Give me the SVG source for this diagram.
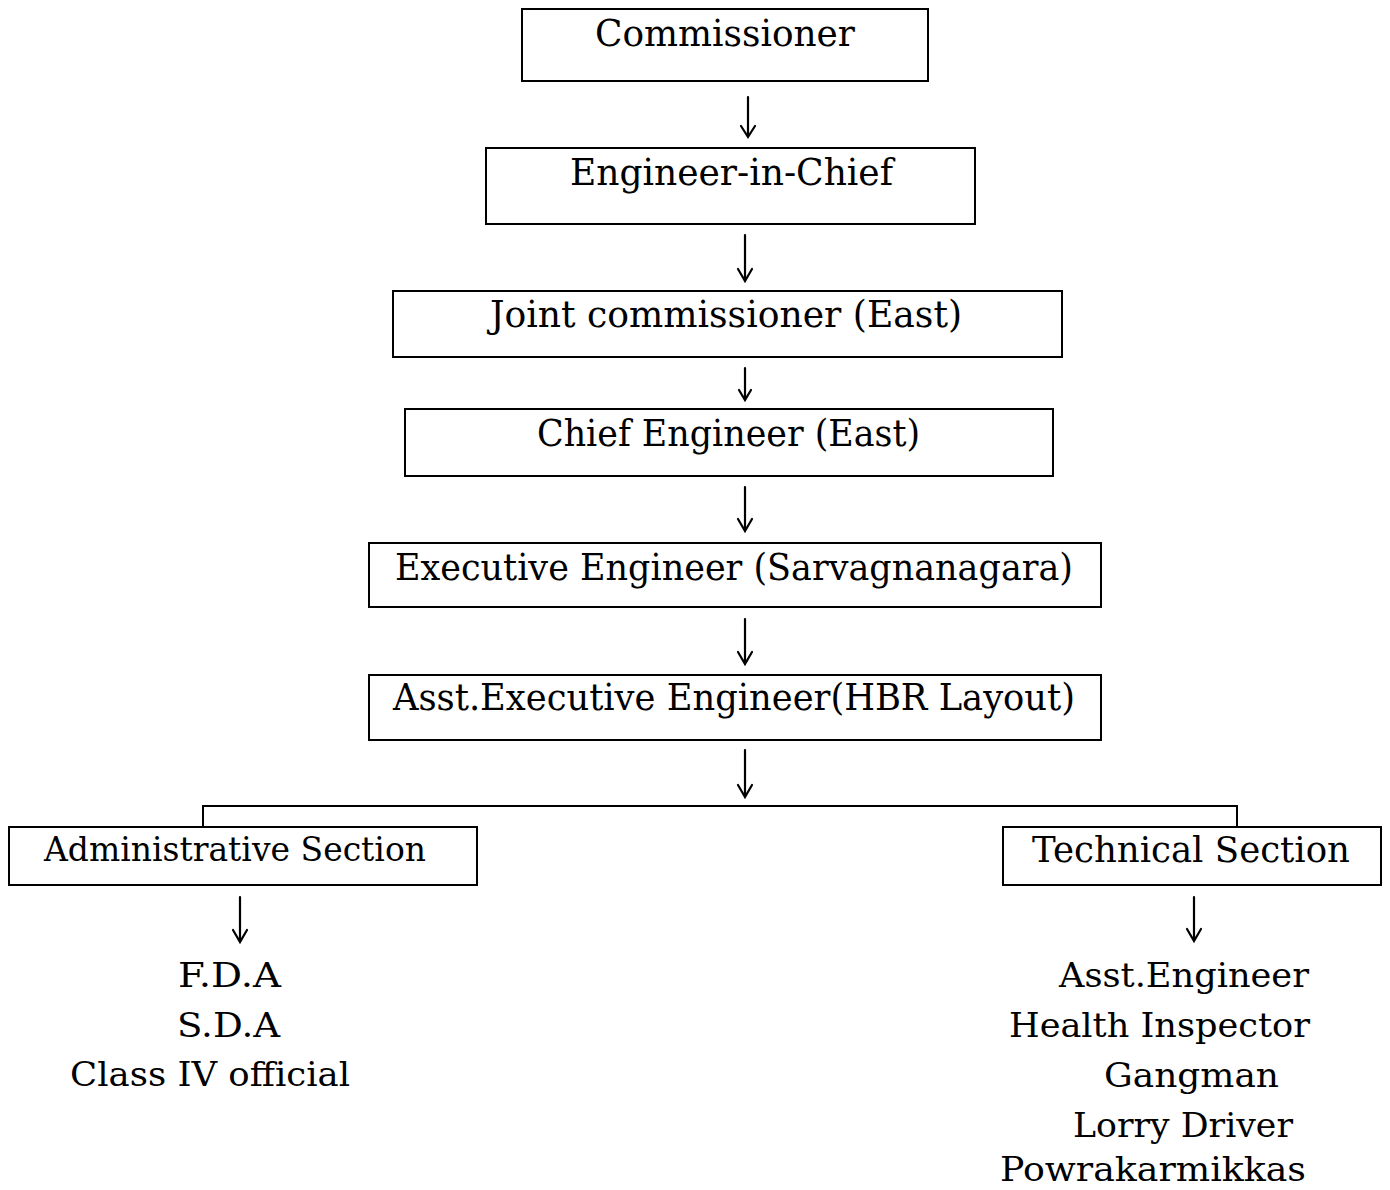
<svg xmlns="http://www.w3.org/2000/svg" width="1390" height="1190" viewBox="0 0 1390 1190">
<style>
.box{fill:#fff;stroke:#000;stroke-width:2}
.t{font-family:"DejaVu Serif","Liberation Serif",serif;font-size:37px;fill:#000}
.s{font-size:34px}
.c{fill:none;stroke:#000;stroke-width:2}
.ar{fill:none;stroke:#000;stroke-width:2.2;stroke-linecap:round}
</style>
<rect width="1390" height="1190" fill="#fff"/>
<g id="connectors">
<path class="c" d="M203,827 V806 H1237 V827"/>
<path class="ar" d="M748,97 V136 M741,126 L748,137 L755,126"/>
<path class="ar" d="M745,235 V280 M738,269 L745,281 L752,269"/>
<path class="ar" d="M745,368 V399 M739,390 L745,400 L751,390"/>
<path class="ar" d="M745,487 V530 M738,519 L745,531 L752,519"/>
<path class="ar" d="M745,619 V663 M738,652 L745,664 L752,652"/>
<path class="ar" d="M745,750 V796 M738,785 L745,797 L752,785"/>
<path class="ar" d="M240,897 V941 M233,930 L240,942 L247,930"/>
<path class="ar" d="M1194,897 V940 M1187,929 L1194,941 L1201,929"/>
</g>
<g id="n1"><rect class="box" x="522" y="9" width="406" height="72"/><text class="t" x="595" y="46" textLength="260" lengthAdjust="spacingAndGlyphs">Commissioner</text></g>
<g id="n2"><rect class="box" x="486" y="148" width="489" height="76"/><text class="t" x="570" y="185" textLength="323" lengthAdjust="spacingAndGlyphs">Engineer-in-Chief</text></g>
<g id="n3"><rect class="box" x="393" y="291" width="669" height="66"/><text class="t" x="490" y="327" textLength="472" lengthAdjust="spacingAndGlyphs">Joint commissioner (East)</text></g>
<g id="n4"><rect class="box" x="405" y="409" width="648" height="67"/><text class="t" x="537" y="446" textLength="383" lengthAdjust="spacingAndGlyphs">Chief Engineer (East)</text></g>
<g id="n5"><rect class="box" x="369" y="543" width="732" height="64"/><text class="t" x="395" y="580" textLength="678" lengthAdjust="spacingAndGlyphs">Executive Engineer (Sarvagnanagara)</text></g>
<g id="n6"><rect class="box" x="369" y="675" width="732" height="65"/><text class="t" x="393" y="710" textLength="682" lengthAdjust="spacingAndGlyphs">Asst.Executive Engineer(HBR Layout)</text></g>
<g id="n7"><rect class="box" x="9" y="827" width="468" height="58"/><text class="t s" x="44" y="861" textLength="382" lengthAdjust="spacingAndGlyphs">Administrative Section</text></g>
<g id="n8"><rect class="box" x="1003" y="827" width="378" height="58"/><text class="t" x="1032" y="862" textLength="318" lengthAdjust="spacingAndGlyphs" style="font-size:35px">Technical Section</text></g>
<g id="admin-list">
<text class="t s" x="178" y="987" textLength="103" lengthAdjust="spacingAndGlyphs">F.D.A</text>
<text class="t s" x="177" y="1037" textLength="103" lengthAdjust="spacingAndGlyphs">S.D.A</text>
<text class="t s" x="70" y="1086" textLength="280" lengthAdjust="spacingAndGlyphs">Class IV official</text>
</g>
<g id="tech-list">
<text class="t s" x="1059" y="987" textLength="250" lengthAdjust="spacingAndGlyphs">Asst.Engineer</text>
<text class="t s" x="1009" y="1037" textLength="301" lengthAdjust="spacingAndGlyphs">Health Inspector</text>
<text class="t s" x="1104" y="1087" textLength="175" lengthAdjust="spacingAndGlyphs">Gangman</text>
<text class="t s" x="1073" y="1137" textLength="220" lengthAdjust="spacingAndGlyphs">Lorry Driver</text>
<text class="t s" x="1000" y="1181" textLength="306" lengthAdjust="spacingAndGlyphs">Powrakarmikkas</text>
</g>
</svg>
